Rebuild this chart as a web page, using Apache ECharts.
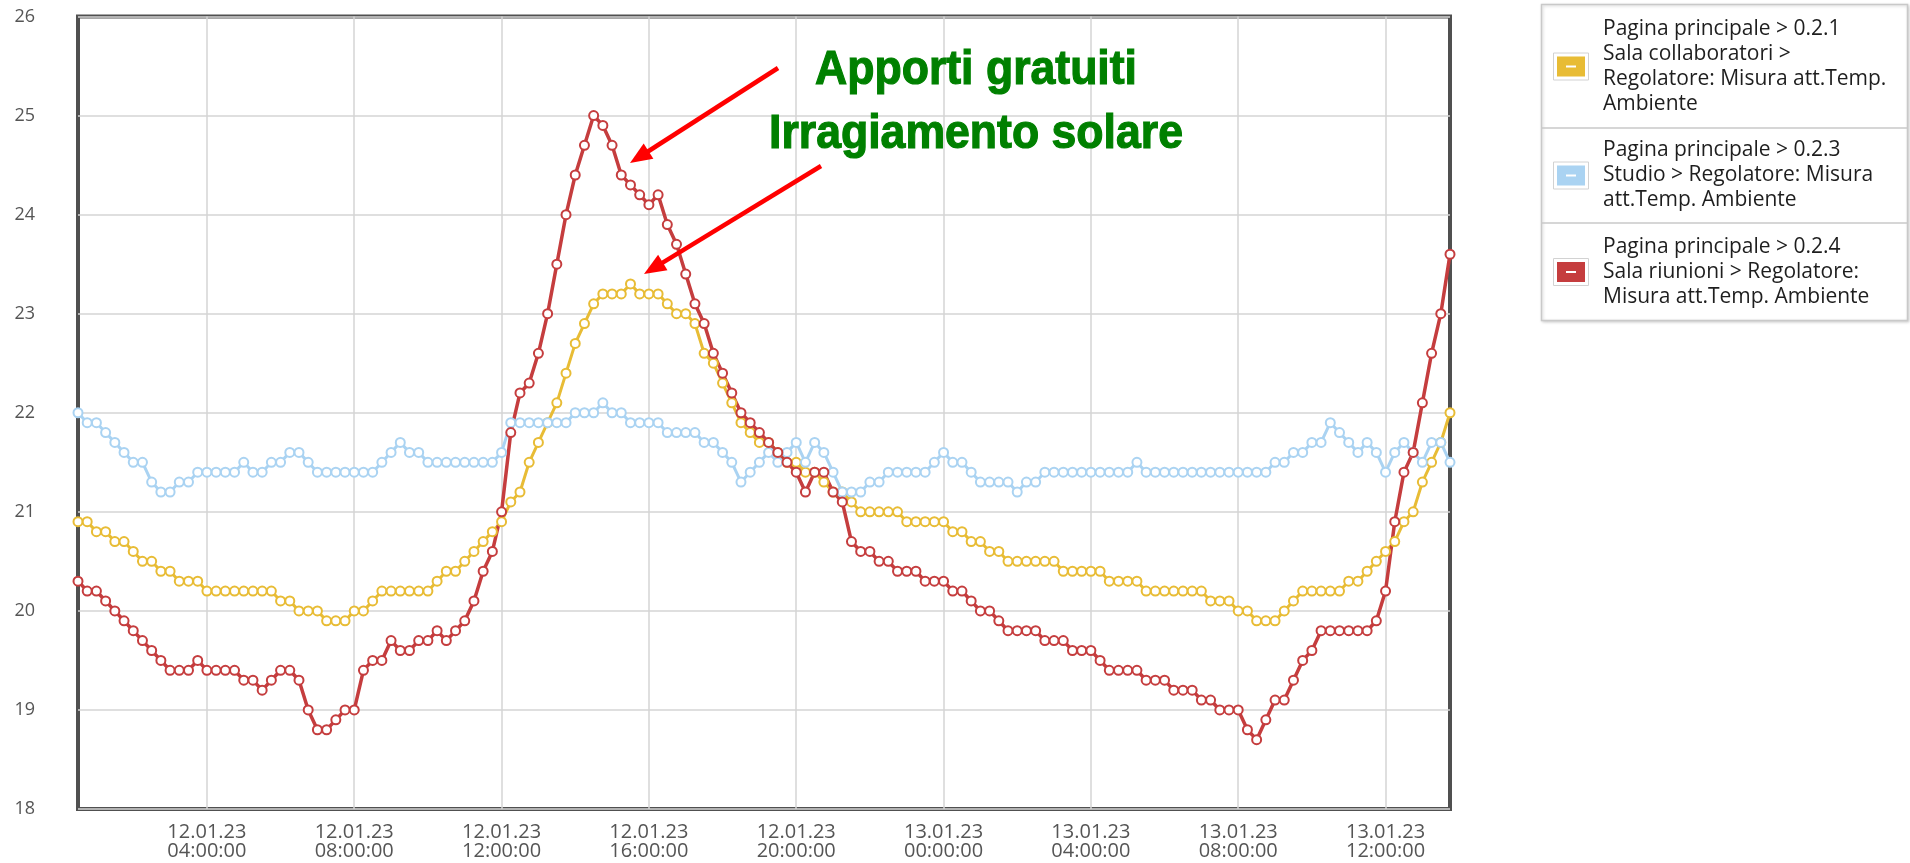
<!DOCTYPE html>
<html>
<head>
<meta charset="utf-8">
<title>Temperature ambiente</title>
<script src="https://cdn.jsdelivr.net/npm/echarts@6/dist/echarts.min.js"></script>
<style>
  html, body { margin: 0; padding: 0; background: #ffffff; }
  #chart { width: 1910px; height: 863px; }
</style>
</head>
<body>
<div id="chart"></div>
<script>
// Sampling of the room controllers: one reading every 15 minutes from 12.01.2023 00:30
const START_UTC = Date.UTC(2023, 0, 12, 0, 30);
const STEP_MIN = 15;
const SAMPLE_COUNT = 150;

// Axis ticks: every 4 hours, first one at 04:00 (sample 14)
const TICK_EVERY = 16;
const TICK_OFFSET = 14;
const Y_MIN = 18, Y_MAX = 26, Y_STEP = 1;

const seriesNames = [
  'Pagina principale > 0.2.1\nSala collaboratori >\nRegolatore: Misura att.Temp.\nAmbiente',
  'Pagina principale > 0.2.3\nStudio > Regolatore: Misura\natt.Temp. Ambiente',
  'Pagina principale > 0.2.4\nSala riunioni > Regolatore:\nMisura att.Temp. Ambiente'
];
const seriesColors = ['#E8BC35', '#AAD3F2', '#C53D3E'];
const lineWidths = [3, 3, 3.5];

// 0.2.1 Sala collaboratori (°C)
const salaCollaboratori = [
  20.9, 20.9, 20.8, 20.8, 20.7, 20.7, 20.6, 20.5, 20.5, 20.4,
  20.4, 20.3, 20.3, 20.3, 20.2, 20.2, 20.2, 20.2, 20.2, 20.2,
  20.2, 20.2, 20.1, 20.1, 20.0, 20.0, 20.0, 19.9, 19.9, 19.9,
  20.0, 20.0, 20.1, 20.2, 20.2, 20.2, 20.2, 20.2, 20.2, 20.3,
  20.4, 20.4, 20.5, 20.6, 20.7, 20.8, 20.9, 21.1, 21.2, 21.5,
  21.7, 21.9, 22.1, 22.4, 22.7, 22.9, 23.1, 23.2, 23.2, 23.2,
  23.3, 23.2, 23.2, 23.2, 23.1, 23.0, 23.0, 22.9, 22.6, 22.5,
  22.3, 22.1, 21.9, 21.8, 21.7, 21.7, 21.6, 21.5, 21.5, 21.4,
  21.4, 21.3, 21.2, 21.2, 21.1, 21.0, 21.0, 21.0, 21.0, 21.0,
  20.9, 20.9, 20.9, 20.9, 20.9, 20.8, 20.8, 20.7, 20.7, 20.6,
  20.6, 20.5, 20.5, 20.5, 20.5, 20.5, 20.5, 20.4, 20.4, 20.4,
  20.4, 20.4, 20.3, 20.3, 20.3, 20.3, 20.2, 20.2, 20.2, 20.2,
  20.2, 20.2, 20.2, 20.1, 20.1, 20.1, 20.0, 20.0, 19.9, 19.9,
  19.9, 20.0, 20.1, 20.2, 20.2, 20.2, 20.2, 20.2, 20.3, 20.3,
  20.4, 20.5, 20.6, 20.7, 20.9, 21.0, 21.3, 21.5, 21.7, 22.0
];

// 0.2.3 Studio (°C)
const studio = [
  22.0, 21.9, 21.9, 21.8, 21.7, 21.6, 21.5, 21.5, 21.3, 21.2,
  21.2, 21.3, 21.3, 21.4, 21.4, 21.4, 21.4, 21.4, 21.5, 21.4,
  21.4, 21.5, 21.5, 21.6, 21.6, 21.5, 21.4, 21.4, 21.4, 21.4,
  21.4, 21.4, 21.4, 21.5, 21.6, 21.7, 21.6, 21.6, 21.5, 21.5,
  21.5, 21.5, 21.5, 21.5, 21.5, 21.5, 21.6, 21.9, 21.9, 21.9,
  21.9, 21.9, 21.9, 21.9, 22.0, 22.0, 22.0, 22.1, 22.0, 22.0,
  21.9, 21.9, 21.9, 21.9, 21.8, 21.8, 21.8, 21.8, 21.7, 21.7,
  21.6, 21.5, 21.3, 21.4, 21.5, 21.6, 21.5, 21.6, 21.7, 21.5,
  21.7, 21.6, 21.4, 21.2, 21.2, 21.2, 21.3, 21.3, 21.4, 21.4,
  21.4, 21.4, 21.4, 21.5, 21.6, 21.5, 21.5, 21.4, 21.3, 21.3,
  21.3, 21.3, 21.2, 21.3, 21.3, 21.4, 21.4, 21.4, 21.4, 21.4,
  21.4, 21.4, 21.4, 21.4, 21.4, 21.5, 21.4, 21.4, 21.4, 21.4,
  21.4, 21.4, 21.4, 21.4, 21.4, 21.4, 21.4, 21.4, 21.4, 21.4,
  21.5, 21.5, 21.6, 21.6, 21.7, 21.7, 21.9, 21.8, 21.7, 21.6,
  21.7, 21.6, 21.4, 21.6, 21.7, 21.6, 21.5, 21.7, 21.7, 21.5
];

// 0.2.4 Sala riunioni (°C)
const salaRiunioni = [
  20.3, 20.2, 20.2, 20.1, 20.0, 19.9, 19.8, 19.7, 19.6, 19.5,
  19.4, 19.4, 19.4, 19.5, 19.4, 19.4, 19.4, 19.4, 19.3, 19.3,
  19.2, 19.3, 19.4, 19.4, 19.3, 19.0, 18.8, 18.8, 18.9, 19.0,
  19.0, 19.4, 19.5, 19.5, 19.7, 19.6, 19.6, 19.7, 19.7, 19.8,
  19.7, 19.8, 19.9, 20.1, 20.4, 20.6, 21.0, 21.8, 22.2, 22.3,
  22.6, 23.0, 23.5, 24.0, 24.4, 24.7, 25.0, 24.9, 24.7, 24.4,
  24.3, 24.2, 24.1, 24.2, 23.9, 23.7, 23.4, 23.1, 22.9, 22.6,
  22.4, 22.2, 22.0, 21.9, 21.8, 21.7, 21.6, 21.5, 21.4, 21.2,
  21.4, 21.4, 21.2, 21.1, 20.7, 20.6, 20.6, 20.5, 20.5, 20.4,
  20.4, 20.4, 20.3, 20.3, 20.3, 20.2, 20.2, 20.1, 20.0, 20.0,
  19.9, 19.8, 19.8, 19.8, 19.8, 19.7, 19.7, 19.7, 19.6, 19.6,
  19.6, 19.5, 19.4, 19.4, 19.4, 19.4, 19.3, 19.3, 19.3, 19.2,
  19.2, 19.2, 19.1, 19.1, 19.0, 19.0, 19.0, 18.8, 18.7, 18.9,
  19.1, 19.1, 19.3, 19.5, 19.6, 19.8, 19.8, 19.8, 19.8, 19.8,
  19.8, 19.9, 20.2, 20.9, 21.4, 21.6, 22.1, 22.6, 23.0, 23.6
];

const annotationLines = ['Apporti gratuiti', 'Irragiamento solare'];

// Timestamp labels "DD.MM.YY\nHH:MM:SS" for each sample
function pad(n) { return String(n).padStart(2, '0'); }
function stampLabel(ms) {
  const d = new Date(ms);
  return pad(d.getUTCDate()) + '.' + pad(d.getUTCMonth() + 1) + '.' +
    String(d.getUTCFullYear()).slice(2) + '\n' +
    pad(d.getUTCHours()) + ':' + pad(d.getUTCMinutes()) + ':00';
}
const timeLabels = [];
for (let i = 0; i < SAMPLE_COUNT; i++) {
  timeLabels.push(stampLabel(START_UTC + i * STEP_MIN * 60000));
}
const isTick = (idx) => idx % TICK_EVERY === TICK_OFFSET;

const seriesValues = [salaCollaboratori, studio, salaRiunioni];

// Red annotation arrow: shaft plus filled head
function arrow(x1, y1, x2, y2) {
  const dx = x2 - x1, dy = y2 - y1, len = Math.hypot(dx, dy);
  const ux = dx / len, uy = dy / len;
  const headLen = 22, headHalf = 9;
  const bx = x2 - ux * headLen, by = y2 - uy * headLen;
  return [
    { type: 'line', z: 100, shape: { x1: x1, y1: y1, x2: bx + ux * 3, y2: by + uy * 3 },
      style: { stroke: '#FF0000', lineWidth: 4.5 } },
    { type: 'polygon', z: 100,
      shape: { points: [[x2, y2], [bx - uy * headHalf, by + ux * headHalf], [bx + uy * headHalf, by - ux * headHalf]] },
      style: { fill: '#FF0000' } }
  ];
}

const legendIcon = 'path://M0,0H28V20H0Z M9,9V11H19V9Z';
const legendFrame = (cy) => ({
  type: 'rect', z: 1,
  shape: { x: 1553.5, y: cy - 13.5, width: 35, height: 27 },
  style: { fill: 'none', stroke: '#d2d2d2', lineWidth: 1 }
});

const annotationText = (text, y) => ({
  type: 'text', z: 100, x: 976, y: y, scaleX: 0.91,
  style: {
    text: text, x: 0, y: 0, align: 'center', verticalAlign: 'middle',
    fill: '#008000', stroke: '#008000', lineWidth: 1.2,
    font: 'bold 49px "Liberation Sans", Arial, sans-serif'
  }
});

const chart = echarts.init(document.getElementById('chart'), null, { renderer: 'canvas' });

chart.setOption({
  animation: false,
  backgroundColor: '#ffffff',
  grid: {
    left: 78, right: 460, top: 16.5, bottom: 54,
    show: true, borderColor: '#505050', borderWidth: 4,
    backgroundColor: 'transparent',
    containLabel: false, outerBoundsMode: 'none'
  },
  legend: {
    orient: 'vertical',
    left: 1557, top: 16.5,
    padding: 0,
    itemGap: 21.5,
    itemWidth: 28, itemHeight: 20,
    icon: legendIcon,
    selectedMode: false,
    itemStyle: { borderWidth: 0 },
    textStyle: {
      fontFamily: '"Open Sans", "Noto Sans", sans-serif',
      fontSize: 21, lineHeight: 25, color: '#1e1e1e',
      padding: [0, 0, 0, 13]
    },
    data: seriesNames.map((n, k) => ({ name: n, itemStyle: { color: seriesColors[k], borderWidth: 0 } }))
  },
  xAxis: {
    type: 'category',
    boundaryGap: false,
    data: timeLabels,
    axisLine: { show: false },
    axisTick: { show: false, interval: isTick },
    axisLabel: {
      interval: isTick,
      fontFamily: '"Open Sans", sans-serif',
      fontSize: 20, lineHeight: 19, color: '#555555', margin: 14
    },
    splitLine: { show: true, interval: isTick, lineStyle: { color: '#d4d4d4', width: 1.5 } }
  },
  yAxis: {
    type: 'value',
    min: Y_MIN, max: Y_MAX, interval: Y_STEP,
    axisLine: { show: false },
    axisTick: { show: false },
    axisLabel: {
      fontFamily: '"Open Sans", sans-serif',
      fontSize: 18, color: '#555555', margin: 43
    },
    splitLine: { show: true, lineStyle: { color: '#d4d4d4', width: 1.5 } }
  },
  series: seriesNames.map((n, k) => ({
    name: n,
    type: 'line',
    data: seriesValues[k],
    color: seriesColors[k],
    symbol: 'emptyCircle',
    symbolSize: 9,
    showAllSymbol: true,
    lineStyle: { color: seriesColors[k], width: lineWidths[k] },
    itemStyle: { color: seriesColors[k], borderColor: seriesColors[k], borderWidth: 2.2 },
    emphasis: { disabled: true }
  })),
  graphic: [
    // legend panel with separators
    { type: 'rect', z: 0,
      shape: { x: 1541.5, y: 4.5, width: 366, height: 316 },
      style: { fill: '#ffffff', stroke: '#c9c9c9', lineWidth: 1.5,
               shadowBlur: 3, shadowOffsetX: 1, shadowOffsetY: 1, shadowColor: 'rgba(0,0,0,0.18)' } },
    { type: 'line', z: 1, shape: { x1: 1542, y1: 128, x2: 1907, y2: 128 },
      style: { stroke: '#c9c9c9', lineWidth: 1.5 } },
    { type: 'line', z: 1, shape: { x1: 1542, y1: 223, x2: 1907, y2: 223 },
      style: { stroke: '#c9c9c9', lineWidth: 1.5 } },
    legendFrame(66.5), legendFrame(175.5), legendFrame(272),
    // annotation
    annotationText(annotationLines[0], 70),
    annotationText(annotationLines[1], 134),
    ...arrow(778, 68, 630, 163),
    ...arrow(821, 166, 644, 274)
  ]
});
</script>
</body>
</html>
